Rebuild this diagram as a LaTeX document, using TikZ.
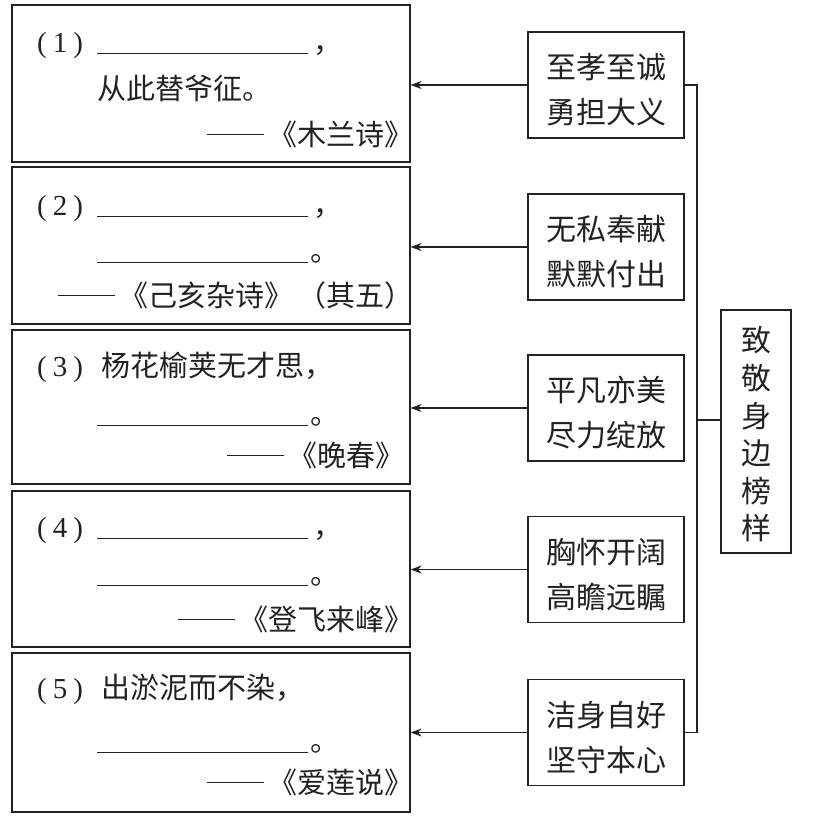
\documentclass[tikz,border=0pt]{standalone}
\usepackage{fontspec}
\setmainfont{Liberation Serif}
\newfontfamily\cjk{Noto Sans CJK SC}
\usetikzlibrary{arrows.meta}
\definecolor{ink}{HTML}{222222}
\begin{document}
\begin{tikzpicture}[x=1pt,y=-1pt,
  lbox/.style={draw=ink,line width=1.2pt,minimum width=398pt,inner sep=0pt},
  mbox/.style={draw=ink,line width=1.2pt,minimum width=156pt,minimum height=106pt,inner sep=0pt},
  rbox/.style={draw=ink,line width=1.2pt,minimum width=70pt,minimum height=243pt,inner sep=0pt},
  num/.style={anchor=base west,inner sep=0pt,text=ink,font=\fontsize{29}{29}\selectfont},
  ltxt/.style={anchor=base west,inner sep=0pt,text=ink,font=\cjk\fontsize{29}{29}\selectfont},
  src/.style={anchor=base east,inner sep=0pt,text=ink,font=\cjk\fontsize{29}{29}\selectfont},
  mtxt/.style={inner sep=0pt,text=ink,align=center,font=\cjk\fontsize{30}{45}\selectfont},
  rtxt/.style={inner sep=0pt,text=ink,align=center,font=\cjk\fontsize{30}{37.6}\selectfont},
  conn/.style={draw=ink,line width=1.2pt},
  arr/.style={draw=ink,line width=1.1pt,-{Stealth[length=11pt,width=8pt]}}
]
\newcommand{\blankc}{\rule[-2pt]{211pt}{1.1pt}\hspace{5pt}，}
\newcommand{\blankp}{\rule[-2pt]{211pt}{1.1pt}\hspace{2pt}。}
\newcommand{\ddash}{\rule[10pt]{57pt}{1.2pt}\hspace{5pt}}
\useasboundingbox (0,0) rectangle (812,822);

% left boxes
\node[lbox,minimum height=157pt] (L1) at (211,83.5) {};
\node[lbox,minimum height=157pt] (L2) at (211,245.5) {};
\node[lbox,minimum height=154pt] (L3) at (211,407) {};
\node[lbox,minimum height=156pt] (L4) at (211,569) {};
\node[lbox,minimum height=159pt] (L5) at (211,732.5) {};

% box 1
\node[num] (n1) at (37,52) {(\hspace{6pt}1\hspace{6pt})};
\node[ltxt] (b1a) at (97,52) {\blankc};
\node[ltxt] (b1b) at (97,99) {从此替爷征。};
\node[src] (s1) at (414,145) {\ddash《木兰诗》};
% box 2
\node[num] (n2) at (37,215) {(\hspace{6pt}2\hspace{6pt})};
\node[ltxt] (b2a) at (97,215) {\blankc};
\node[ltxt] (b2b) at (97,261) {\blankp};
\node[src] (s2) at (414,306) {\ddash《己亥杂诗》\hspace{4pt}（其五）};
% box 3
\node[num] (n3) at (37,376) {(\hspace{6pt}3\hspace{6pt})};
\node[ltxt] (b3a) at (101,376) {杨花榆荚无才思，};
\node[ltxt] (b3b) at (97,424) {\blankp};
\node[src] (s3) at (405,466) {\ddash《晚春》};
% box 4
\node[num] (n4) at (37,537) {(\hspace{6pt}4\hspace{6pt})};
\node[ltxt] (b4a) at (97,537) {\blankc};
\node[ltxt] (b4b) at (97,584) {\blankp};
\node[src] (s4) at (414,630) {\ddash《登飞来峰》};
% box 5
\node[num] (n5) at (37,698) {(\hspace{6pt}5\hspace{6pt})};
\node[ltxt] (b5a) at (101,698) {出淤泥而不染，};
\node[ltxt] (b5b) at (97,751) {\blankp};
\node[src] (s5) at (414,793) {\ddash《爱莲说》};

% middle boxes
\node[mbox] (M1) at (606,85) {};
\node[mbox] (M2) at (606,247) {};
\node[mbox] (M3) at (606,408) {};
\node[mbox] (M4) at (606,569.5) {};
\node[mbox] (M5) at (606,732.5) {};
\node[mtxt] (M1t) at ([yshift=-5pt]M1.center) {至孝至诚\\勇担大义};
\node[mtxt] (M2t) at ([yshift=-5pt]M2.center) {无私奉献\\默默付出};
\node[mtxt] (M3t) at ([yshift=-5pt]M3.center) {平凡亦美\\尽力绽放};
\node[mtxt] (M4t) at ([yshift=-5pt]M4.center) {胸怀开阔\\高瞻远瞩};
\node[mtxt] (M5t) at ([yshift=-5pt]M5.center) {洁身自好\\坚守本心};

% right box
\node[rbox] (R) at (756,431.5) {};
\node[rtxt] (Rt) at ([yshift=-3pt]R.center) {致\\敬\\身\\边\\榜\\样};

% connectors
\coordinate (bus) at (697,420);
\draw[conn] (M1.east) -- (M1.east -| bus) -- (M5.east -| bus) -- (M5.east);
\draw[conn] (bus) -- (bus -| R.west);
\draw[arr] (M1.west) -- (M1.west -| L1.east);
\draw[arr] (M2.west) -- (M2.west -| L2.east);
\draw[arr] (M3.west) -- (M3.west -| L3.east);
\draw[arr] (M4.west) -- (M4.west -| L4.east);
\draw[arr] (M5.west) -- (M5.west -| L5.east);
\end{tikzpicture}
\end{document}
